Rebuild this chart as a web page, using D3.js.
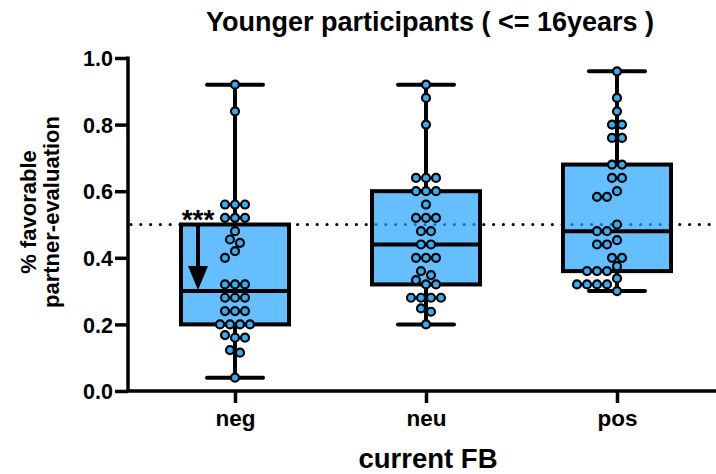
<!DOCTYPE html>
<html><head><meta charset="utf-8">
<script src="https://cdn.jsdelivr.net/npm/d3@7"></script>
<style>
html,body{margin:0;padding:0;background:#fff;}
svg text{font-family:"Liberation Sans",Arial,sans-serif;font-weight:bold;fill:#000;}
</style></head>
<body>
<svg id="chart" width="716" height="474"></svg>
<script>
const categories = ["neg", "neu", "pos"];
const negValues = [0.92, 0.84, 0.56, 0.56, 0.56, 0.52, 0.52, 0.52, 0.48, 0.455, 0.445, 0.42, 0.40,
  0.32, 0.32, 0.32, 0.28, 0.28, 0.28, 0.24, 0.24, 0.24, 0.20, 0.20, 0.20, 0.20,
  0.168, 0.16, 0.16, 0.123, 0.115, 0.04];
const neuValues = [0.92, 0.88, 0.80, 0.64, 0.64, 0.64, 0.60, 0.60, 0.60, 0.56, 0.52, 0.52, 0.52,
  0.48, 0.48, 0.44, 0.44, 0.40, 0.40, 0.40, 0.36, 0.348, 0.333, 0.32, 0.32,
  0.28, 0.28, 0.28, 0.28, 0.248, 0.238, 0.20];
const posValues = [0.96, 0.88, 0.84, 0.80, 0.80, 0.76, 0.76, 0.68, 0.68, 0.64, 0.64, 0.60, 0.583, 0.583,
  0.50, 0.48, 0.48, 0.453, 0.44, 0.44, 0.40, 0.40, 0.375, 0.36, 0.36, 0.36, 0.338,
  0.32, 0.32, 0.32, 0.32, 0.30];
const yTicks = [0.0, 0.2, 0.4, 0.6, 0.8, 1.0];
const referenceLevel = 0.5;
const titleText = "Younger participants ( <= 16years )";
const yLabelLines = ["% favorable", "partner-evaluation"];
const xLabel = "current FB";
const significance = "***";

const seriesValues = [negValues, neuValues, posValues];

const svg = d3.select("#chart");
const x = d3.scalePoint().domain(categories).range([235, 617]);
const y = d3.scaleLinear().domain([0, 1]).range([391, 58]);

// Tukey hinges (median of each half)
const stats = categories.map((c, i) => {
  const s = seriesValues[i].slice().sort((a, b) => a - b);
  const n = s.length, h = Math.floor(n / 2);
  const lower = s.slice(0, h), upper = s.slice(n - h);
  return {cat: c, min: s[0], max: s[n - 1], q1: d3.median(lower), med: d3.median(s), q3: d3.median(upper)};
});

// reference dotted line (behind boxes)
svg.append("line")
  .attr("x1", 131).attr("x2", 716)
  .attr("y1", y(referenceLevel)).attr("y2", y(referenceLevel))
  .attr("stroke", "#000").attr("stroke-width", 3.2)
  .attr("stroke-linecap", "round").attr("stroke-dasharray", "0,9.8");

const boxW = 108, capW = 56;
const g = svg.append("g");
stats.forEach(st => {
  const cx = x(st.cat);
  g.append("line").attr("x1", cx).attr("x2", cx).attr("y1", y(st.max)).attr("y2", y(st.q3))
    .attr("stroke", "#000").attr("stroke-width", 4);
  g.append("line").attr("x1", cx).attr("x2", cx).attr("y1", y(st.q1)).attr("y2", y(st.min))
    .attr("stroke", "#000").attr("stroke-width", 4);
  [st.max, st.min].forEach(v => {
    g.append("line").attr("x1", cx - capW / 2).attr("x2", cx + capW / 2).attr("y1", y(v)).attr("y2", y(v))
      .attr("stroke", "#000").attr("stroke-width", 4).attr("stroke-linecap", "round");
  });
  g.append("rect").attr("x", cx - boxW / 2).attr("y", y(st.q3))
    .attr("width", boxW).attr("height", y(st.q1) - y(st.q3))
    .attr("fill", "rgb(34,163,255)").attr("fill-opacity", 0.7)
    .attr("stroke", "#000").attr("stroke-width", 4);
  g.append("line").attr("x1", cx - boxW / 2).attr("x2", cx + boxW / 2).attr("y1", y(st.med)).attr("y2", y(st.med))
    .attr("stroke", "#000").attr("stroke-width", 4);
});

// beeswarm placement
const spacing = 10, minDist = 9.4, tol = 0.0125;
function swarm(values) {
  const s = values.slice().sort((a, b) => b - a);
  const rows = [];
  s.forEach(v => {
    const last = rows[rows.length - 1];
    if (last && Math.abs(last[0] - v) <= tol) last.push(v); else rows.push([v]);
  });
  const placed = [];
  rows.forEach(row => {
    const n = row.length;
    const base = row.map((v, i) => (i - (n - 1) / 2) * spacing);
    const shifts = [0];
    for (let k = 1; k < 12; k++) { shifts.push(-k * 5, k * 5); }
    for (const sh of shifts) {
      const cand = row.map((v, i) => ({v, dx: base[i] + sh}));
      const ok = cand.every(c => placed.every(p => Math.hypot(p.dx - c.dx, y(p.v) - y(c.v)) >= minDist));
      if (ok) { placed.push(...cand); break; }
    }
  });
  return placed;
}

stats.forEach((st, i) => {
  const cx = x(st.cat);
  const pts = swarm(seriesValues[i]);
  svg.append("g").selectAll("circle").data(pts).join("circle")
    .attr("cx", d => cx + d.dx).attr("cy", d => y(d.v)).attr("r", 4)
    .attr("fill", "#35AEF5").attr("stroke", "#000").attr("stroke-width", 2.2);
});

// axes
const yAxis = d3.axisLeft(y).tickValues(yTicks).tickFormat(d3.format(".1f")).tickSize(13).tickPadding(2);
const yg = svg.append("g").attr("transform", "translate(128,0)").call(yAxis);
yg.select(".domain").attr("stroke-width", 3.5).attr("d", `M0,${y(1)-1.5}V${y(0)}`);
yg.selectAll(".tick line").attr("stroke-width", 3.5);
yg.selectAll(".tick text").style("font-size", "21.5px").attr("dy", "0.36em");

const xAxis = d3.axisBottom(x).tickSize(12).tickPadding(7);
const xg = svg.append("g").attr("transform", "translate(0,391)").call(xAxis);
xg.select(".domain").attr("stroke-width", 3.5).attr("d", "M126.5,0H716");
xg.selectAll(".tick line").attr("stroke-width", 3.5);
xg.selectAll(".tick text").style("font-size", "22.5px");

// titles
svg.append("text").attr("x", 430).attr("y", 31).attr("text-anchor", "middle")
  .style("font-size", "27px").text(titleText);
svg.append("text").attr("x", 428).attr("y", 468).attr("text-anchor", "middle")
  .style("font-size", "27.5px").text(xLabel);
const yl = svg.append("text").attr("transform", "translate(36,212) rotate(-90)").attr("text-anchor", "middle")
  .style("font-size", "22px");
yLabelLines.forEach((t, i) => yl.append("tspan").attr("x", 0).attr("dy", i === 0 ? 0 : 23).text(t));

// significance annotation
const ax = x("neg") - 37;
svg.append("text").attr("x", ax).attr("y", 229).attr("text-anchor", "middle")
  .style("font-size", "28px").text(significance);
svg.append("line").attr("x1", ax).attr("x2", ax).attr("y1", y(referenceLevel)).attr("y2", y(stats[0].med) - 22)
  .attr("stroke", "#000").attr("stroke-width", 4);
svg.append("path")
  .attr("d", `M${ax - 10},${y(stats[0].med) - 25}L${ax + 10},${y(stats[0].med) - 25}L${ax},${y(stats[0].med) - 1}Z`)
  .attr("fill", "#000");
</script>
</body></html>
